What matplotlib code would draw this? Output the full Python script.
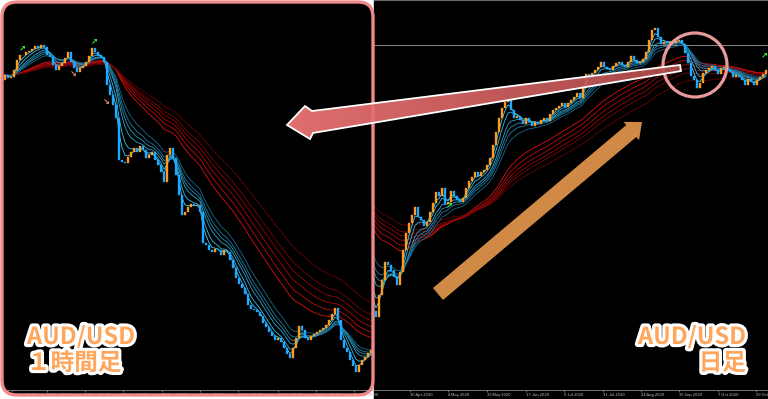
import numpy as np
import pandas as pd
import matplotlib
matplotlib.use('Agg')
import matplotlib.pyplot as plt
import matplotlib.patheffects as pe
from matplotlib.patches import Polygon, Circle, FancyBboxPatch, Rectangle

plt.rcParams['font.family'] = ['Noto Sans CJK JP', 'DejaVu Sans']

# AUD/USD 1 hour closes (left panel)
h1_first_open = 0.7320
h1_close = [
    0.7325, 0.7322, 0.7323, 0.7330, 0.7340, 0.7345, 0.7345, 0.7348, 0.7349, 0.7351,
    0.7354, 0.7352, 0.7355, 0.7353, 0.7345, 0.7343, 0.7335, 0.7330, 0.7334, 0.7337,
    0.7342, 0.7348, 0.7338, 0.7332, 0.7328, 0.7332, 0.7334, 0.7338, 0.7344, 0.7352,
    0.7348, 0.7345, 0.7343, 0.7338, 0.7315, 0.7305, 0.7295, 0.7282, 0.7240, 0.7238,
    0.7237, 0.7243, 0.7248, 0.7252, 0.7248, 0.7254, 0.7250, 0.7242, 0.7245, 0.7248,
    0.7240, 0.7235, 0.7228, 0.7218, 0.7245, 0.7252, 0.7242, 0.7225, 0.7205, 0.7185,
    0.7188, 0.7193, 0.7196, 0.7194, 0.7195, 0.7188, 0.7157, 0.7155, 0.7150, 0.7148,
    0.7151, 0.7150, 0.7145, 0.7150, 0.7148, 0.7140, 0.7132, 0.7122, 0.7116, 0.7112,
    0.7106, 0.7095, 0.7091, 0.7090, 0.7088, 0.7084, 0.7077, 0.7073, 0.7068, 0.7064,
    0.7060, 0.7062, 0.7058, 0.7052, 0.7046, 0.7042, 0.7052, 0.7062, 0.7074, 0.7070,
    0.7062, 0.7060, 0.7064, 0.7066, 0.7068, 0.7070, 0.7072, 0.7075, 0.7080, 0.7086,
    0.7092, 0.7080, 0.7060, 0.7052, 0.7048, 0.7040, 0.7034, 0.7028, 0.7035, 0.7040,
    0.7043, 0.7047, 0.7050,
]
h1_tick_pos = [2.3, 14.0, 26.7, 39.3, 52.3, 65.0, 77.7, 91.0, 103.7, 116.3]
h1_tick_labels = ['16 Sep 18:00', '17 Sep 10:00', '18 Sep 02:00', '18 Sep 18:00',
                  '21 Sep 10:00', '22 Sep 02:00', '22 Sep 18:00', '23 Sep 10:00',
                  '24 Sep 02:00', '24 Sep 18:00']
h1_up_signals = [(5.7, 0.7352), (29.7, 0.7359)]
h1_down_signals = [(22.7, 0.7326), (33.7, 0.7298)]

# AUD/USD daily closes (right panel); prior closes sit under the left panel
d1_prior_close = [
    0.6700, 0.6690, 0.6710, 0.6680, 0.6660, 0.6650, 0.6670, 0.6640, 0.6620, 0.6600,
    0.6630, 0.6610, 0.6580, 0.6560, 0.6590, 0.6570, 0.6540, 0.6520, 0.6550, 0.6530,
    0.6500, 0.6470, 0.6490, 0.6450, 0.6400, 0.6420, 0.6350, 0.6280, 0.6300, 0.6200,
    0.6150, 0.6100, 0.6050, 0.5980,
]
d1_close = [
    0.5950, 0.6060, 0.6135, 0.6225, 0.6210, 0.6185, 0.6150, 0.6110, 0.6175, 0.6285,
    0.6370, 0.6420, 0.6460, 0.6500, 0.6450, 0.6435, 0.6405, 0.6425, 0.6475, 0.6520,
    0.6575, 0.6555, 0.6595, 0.6515, 0.6525, 0.6580, 0.6555, 0.6535, 0.6525, 0.6545,
    0.6595, 0.6630, 0.6650, 0.6675, 0.6655, 0.6675, 0.6685, 0.6710, 0.6745, 0.6810,
    0.6875, 0.6945, 0.6995, 0.7025, 0.7040, 0.6985, 0.6945, 0.6955, 0.6935, 0.6915,
    0.6945, 0.6925, 0.6905, 0.6925, 0.6915, 0.6935, 0.6945, 0.6930, 0.6965, 0.6985,
    0.6995, 0.7005, 0.7020, 0.7000, 0.7020, 0.7035, 0.7050, 0.7070, 0.7045, 0.7105,
    0.7165, 0.7150, 0.7170, 0.7185, 0.7200, 0.7225, 0.7200, 0.7190, 0.7185, 0.7205,
    0.7220, 0.7225, 0.7210, 0.7200, 0.7225, 0.7255, 0.7235, 0.7220, 0.7225, 0.7240,
    0.7275, 0.7335, 0.7385, 0.7395, 0.7350, 0.7315, 0.7325, 0.7320, 0.7325, 0.7320,
    0.7330, 0.7335, 0.7315, 0.7270, 0.7220, 0.7155, 0.7135, 0.7095, 0.7120, 0.7170,
    0.7185, 0.7195, 0.7205, 0.7185, 0.7165, 0.7195, 0.7200, 0.7185, 0.7175, 0.7150,
    0.7160, 0.7150, 0.7135, 0.7110, 0.7140, 0.7125, 0.7110, 0.7135, 0.7150, 0.7165,
    0.7185,
]
d1_tick_pos = [-1.0, 11.3, 24.0, 37.0, 50.0, 62.7, 75.7, 88.3, 101.0, 114.0, 126.7]
d1_tick_labels = ['19 Mar 2020', '10 Apr 2020', '4 May 2020', '26 May 2020', '17 Jun 2020',
                  '9 Jul 2020', '31 Jul 2020', '24 Aug 2020', '15 Sep 2020', '7 Oct 2020',
                  '29 Oct']
d1_up_signals = [(24.3, 0.6510), (129.4, 0.7262)]
d1_bid = 0.7310

short_periods = [3, 5, 8, 10, 12, 15]
long_periods = [30, 35, 40, 45, 50, 60]
short_colors = ['#3fd0ff', '#36bbe8', '#2ea6d2', '#2691bb', '#1e7ca5', '#17688f']
long_colors = ['#e01010', '#c40c0c', '#a80a0a', '#900808', '#7a0606', '#650404']
bull_color = '#ff9a1a'
bear_color = '#1fa8ff'

W, H = 768, 399


def ema(values, period):
    return pd.Series(values).ewm(span=period, adjust=False).mean().to_numpy()


def draw_gmma(ax, closes, x):
    for p, c in zip(long_periods, long_colors):
        ax.plot(x, ema(closes, p), color=c, lw=0.6, zorder=2)
    for p, c in zip(short_periods, short_colors):
        ax.plot(x, ema(closes, p), color=c, lw=0.6, zorder=2)


def draw_candles(ax, closes, first_open):
    closes = np.asarray(closes)
    opens = np.r_[first_open, closes[:-1]]
    x = np.arange(len(closes))
    up = closes >= opens
    for mask, col in ((up, bull_color), (~up, bear_color)):
        ax.bar(x[mask], (closes - opens)[mask], bottom=opens[mask], width=0.45,
               color=col, edgecolor=col, linewidth=0.25, zorder=3)


def style_axis(ax, pos, labels):
    ax.set_facecolor('none')
    for s in ('left', 'right', 'top'):
        ax.spines[s].set_visible(False)
    ax.spines['bottom'].set_color('#8a8a8a')
    ax.spines['bottom'].set_linewidth(0.6)
    ax.set_yticks([])
    ax.set_xticks(pos)
    ax.set_xticklabels(labels, ha='left')
    ax.tick_params(axis='x', colors='#8a8a8a', labelcolor='#c0c0c0', labelsize=3.0,
                   length=1.5, width=0.5, pad=0.5)


def px_axes(x0, y0, x1, y1, **kw):
    # axes placed by pixel box (y measured from top)
    return fig.add_axes([x0 / W, 1 - y1 / H, (x1 - x0) / W, (y1 - y0) / H], **kw)


fig = plt.figure(figsize=(W / 100, H / 100), dpi=100, facecolor='white')

# base: black under the right chart
base = px_axes(0, 0, W, H, zorder=0)
base.set_xlim(0, W)
base.set_ylim(H, 0)
base.axis('off')
base.add_patch(Rectangle((374, 0), W - 374, H, color='black'))

# right panel: daily chart
axr = px_axes(374, 0, W, 390, zorder=1)
style_axis(axr, d1_tick_pos, d1_tick_labels)
axr.spines['top'].set_visible(True)
axr.spines['top'].set_color('#6a6a6a')
full = d1_prior_close + d1_close
draw_gmma(axr, full, np.arange(len(full)) - len(d1_prior_close))
draw_candles(axr, d1_close, d1_prior_close[-1])
axr.axhline(d1_bid, color='#8a8a8a', lw=0.7, zorder=1)
for x, y in d1_up_signals:
    axr.text(x, y, '↗', color='#33ff33', fontsize=6, fontweight='bold',
             family='DejaVu Sans', ha='center', va='center', zorder=4)
axr.set_xlim(-2 / 3, (W - 376) / 3)
axr.set_ylim(0.7535 - 0.0005 * 390, 0.7535)

# left panel background
bg = px_axes(0, 0, W, H, zorder=2)
bg.set_xlim(0, W)
bg.set_ylim(H, 0)
bg.axis('off')
bg.add_patch(FancyBboxPatch((2, 2), 371, 393, boxstyle='round,pad=0,rounding_size=15',
                            fc='black', ec='none'))

# left panel: 1 hour chart
axl = px_axes(3, 0, 372, 390, zorder=3)
style_axis(axl, h1_tick_pos, h1_tick_labels)
draw_gmma(axl, h1_close, np.arange(len(h1_close)))
draw_candles(axl, h1_close, h1_first_open)
for x, y in h1_up_signals:
    axl.text(x, y, '↗', color='#33ff33', fontsize=6, fontweight='bold',
             family='DejaVu Sans', ha='center', va='center', zorder=4)
for x, y in h1_down_signals:
    axl.text(x, y, '↘', color='#ff9070', fontsize=6, fontweight='bold',
             family='DejaVu Sans', ha='center', va='center', zorder=4)
axl.set_xlim(-2 / 3, (372 - 5) / 3)
axl.set_ylim(0.7400 - 0.0001 * 390, 0.7400)

# overlay: frame, arrows, circle, labels
ov = px_axes(0, 0, W, H, zorder=5)
ov.set_xlim(0, W)
ov.set_ylim(H, 0)
ov.axis('off')
ov.patch.set_alpha(0)

ov.add_patch(FancyBboxPatch((2, 2), 371, 393, boxstyle='round,pad=0,rounding_size=15',
                            fc='none', ec='#f08a8a', lw=2.4))
ov.add_patch(Circle((695, 65), 32, fc='none', ec='#e89a9a', lw=2.3))

# orange trend arrow
tail = np.array([438.0, 294.0])
tip = np.array([642.0, 122.0])
u = (tip - tail) / np.linalg.norm(tip - tail)
n = np.array([-u[1], u[0]])
head_base = tip - 14 * u
orange = [tail + 7.8 * n, head_base + 7.8 * n, head_base + 12 * n, tip,
          head_base - 12 * n, head_base - 7.8 * n, tail - 7.8 * n]
ov.add_patch(Polygon(orange, closed=True, fc='#d08a45', ec='none'))

# pink arrow pointing into the 1 hour panel
pink = [(287, 125), (305, 106), (312, 111), (680, 65), (681, 71), (313, 133), (310, 139)]
pink_edge = Polygon(pink, closed=True, fc='none', ec='white', lw=1.3, zorder=3)
pink_clip = Polygon(pink, closed=True, fc='none', ec='none')
ov.add_patch(pink_clip)
grad = np.zeros((1, 256, 4))
c0 = np.array([0.95, 0.47, 0.47])
c1 = np.array([0.70, 0.30, 0.30])
t = np.linspace(0, 1, 256)[:, None]
grad[0, :, :3] = c0 * (1 - t) + c1 * t
grad[0, :, 3] = 0.93
im = ov.imshow(grad, extent=(287, 681, 140, 63), aspect='auto', zorder=2, interpolation='bilinear')
im.set_clip_path(pink_clip)
ov.add_patch(pink_edge)
ov.set_xlim(0, W)
ov.set_ylim(H, 0)

stroke = [pe.withStroke(linewidth=4.5, foreground='white')]
label_kw = dict(color='#ffa65c', fontsize=17, fontweight='bold', va='baseline',
                path_effects=stroke, zorder=6)
ov.text(27, 344, 'AUD/USD', ha='left', **label_kw)
ov.text(27, 370, '１時間足', ha='left', **label_kw)
ov.text(746, 344, 'AUD/USD', ha='right', **label_kw)
ov.text(746, 370, '日足', ha='right', **label_kw)

fig.savefig('out.png', dpi=100, facecolor=fig.get_facecolor())
